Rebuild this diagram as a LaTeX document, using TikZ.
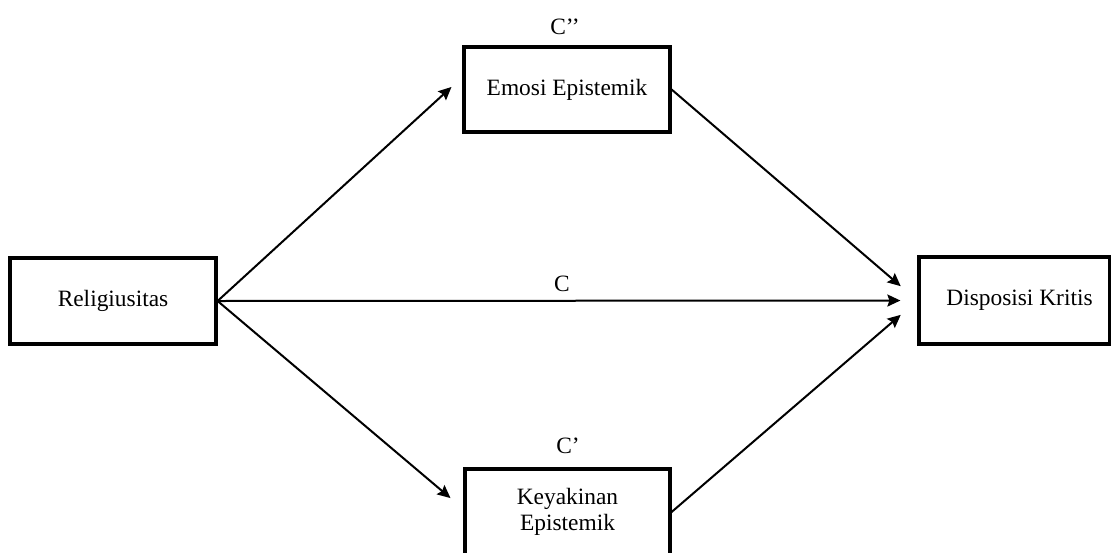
\documentclass[tikz,border=0pt]{standalone}
\usepackage{fontspec}
\setmainfont{Liberation Serif}
\usetikzlibrary{arrows.meta}
\begin{document}
\begin{tikzpicture}[x=1pt,y=-1pt,
  box/.style={draw=black,line width=3.2pt,rectangle,inner sep=0pt,align=center,
    font=\fontsize{23.4}{25.5}\selectfont},
  arr/.style={line width=2pt,-{Stealth[length=13pt,width=12pt,inset=2pt]}},
  lab/.style={font=\fontsize{23.4}{25.5}\selectfont,inner sep=0pt}]
\useasboundingbox (0,0) rectangle (1111,552);
\begin{scope}
\clip (0,0) rectangle (1111,552);
\node[box,minimum width=206pt,minimum height=86pt] (rel) at (113,301) {Religiusitas};
\node[box,minimum width=206pt,minimum height=85pt] (emo) at (567,89.5) {Emosi Epistemik};
\node[box,minimum width=191pt,minimum height=87pt] (dis) at (1014.5,300.5) {\hspace*{10pt}Disposisi Kritis};
\node[box,minimum width=205pt,minimum height=86pt] (key) at (567.5,512) {Keyakinan\\Epistemik};
\end{scope}
\node[lab] (lc2) at (565,27) {C’’};
\node[lab] (lc) at (562,284) {C};
\node[lab] (lc1) at (568,446) {C’};
\draw[arr,shorten >=14.8pt] (rel.east) -- ([yshift=12.5pt]emo.west);
\draw[arr,shorten >=16.9pt] (rel.east) -- ([yshift=3pt]key.west);
\draw[arr,shorten >=17pt] (rel.east) -- (dis.west);
\draw[arr,shorten >=22pt] (emo.east) -- (dis.west);
\draw[arr,shorten >=22pt] (key.east) -- (dis.west);
\end{tikzpicture}
\end{document}
